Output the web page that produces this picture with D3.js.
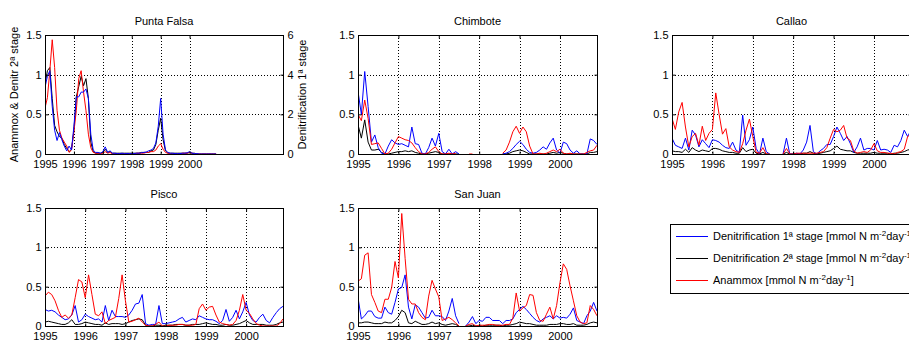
<!DOCTYPE html>
<html><head><meta charset="utf-8">
<script src="https://cdn.jsdelivr.net/npm/d3@7"></script>
<style>
html,body{margin:0;padding:0;background:#fff;overflow:hidden}
svg{display:block;font-family:"Liberation Sans",Arial,Helvetica,sans-serif}
</style></head><body>
<svg id="chart" width="909" height="340"></svg>
<script>
// Monthly series, January 1995 to December 2000 (72 months)
const startYear = 1995;
const yearTicks = [1995, 1996, 1997, 1998, 1999, 2000];
const leftTicks = [0, 0.5, 1, 1.5];
const rightTicks = [0, 2, 4, 6];
const stations = ["Punta Falsa", "Chimbote", "Callao", "Pisco", "San Juan"];
const seriesNames = [
  "Denitrification 1ª stage",
  "Denitrification 2ª stage",
  "Anammox"
];

// Punta Falsa: denitrification 1st stage is read on the right axis (0-6)
const puntaFalsaDenit1 = [3.36,3.92,4.2,2.4,1.2,0.68,1.08,0.72,0.4,0.16,0.4,0.2,
  1.4,2.88,2.88,3.12,3.12,3.28,2.8,1.0,0.2,0.08,0.08,0.04,
  0.12,0.36,0.08,0.16,0.04,0.04,0.02,0.02,0.04,0.02,0.02,0.02,
  0.02,0.02,0.04,0.04,0.06,0.08,0.1,0.16,0.2,0.28,0.56,1.4,
  2.8,1.0,0.2,0.08,0.04,0.04,0.02,0.02,0.02,0.04,0.04,0.06,
  0.12,0.04,0.02,0.02,0.0,0.0,0.0,0.0,0.0,0.0,0.0,0.0];
const puntaFalsaDenit2 = [0.88,1.05,1.09,0.7,0.36,0.28,0.22,0.2,0.12,0.07,0.03,0.06,
  0.3,0.72,0.85,0.98,0.86,0.95,0.7,0.15,0.03,0.01,0.01,0.01,
  0.02,0.06,0.02,0.03,0.01,0.01,0.01,0.01,0.01,0.01,0.01,0.01,
  0.01,0.01,0.01,0.01,0.02,0.02,0.02,0.02,0.04,0.05,0.12,0.3,
  0.45,0.18,0.04,0.01,0.01,0.01,0.01,0.01,0.01,0.01,0.01,0.01,
  0.02,0.01,0.01,0.0,0.0,0.0,0.0,0.0,0.0,0.0,0.0,0.0];
const puntaFalsaAnammox = [0.58,0.71,1.05,1.44,1.09,0.55,0.3,0.2,0.15,0.1,0.02,0.05,
  0.28,0.55,0.95,1.05,0.78,0.55,0.25,0.08,0.02,0.01,0.01,0.0,
  0.01,0.03,0.01,0.02,0.0,0.0,0.0,0.0,0.0,0.0,0.0,0.0,
  0.0,0.0,0.01,0.01,0.01,0.01,0.02,0.02,0.03,0.03,0.05,0.1,
  0.13,0.06,0.02,0.01,0.0,0.0,0.0,0.0,0.0,0.01,0.01,0.01,
  0.02,0.01,0.0,0.0,0.0,0.0,0.0,0.0,0.0,0.0,0.0,0.0];

const chimboteDenit1 = [0.79,0.5,1.04,0.6,0.15,0.24,0.08,0.01,0.0,0.1,0.18,0.14,
  0.12,0.13,0.11,0.09,0.34,0.13,0.12,0.01,0.0,0.08,0.2,0.1,
  0.26,0.03,0.0,0.06,0.0,0.03,0.0,null,null,null,null,null,
  null,null,null,null,null,null,null,0.0,0.01,0.03,0.07,0.12,
  0.16,0.12,0.06,0.02,0.01,0.02,0.05,0.09,0.06,0.14,0.2,0.05,
  0.01,0.15,0.13,0.05,0.01,0.04,0.0,0.0,0.0,0.19,0.17,0.12];
const chimboteDenit2 = [0.37,0.2,0.43,0.15,0.05,0.05,0.06,0.02,0.0,0.0,0.01,0.02,
  0.03,0.03,0.04,0.03,0.04,0.02,0.01,0.0,0.0,0.01,0.02,0.03,
  0.02,0.0,0.0,0.0,0.0,0.0,0.0,null,null,null,null,null,
  null,null,null,null,null,null,null,0.0,0.0,0.01,0.03,0.04,
  0.05,0.04,0.02,0.0,0.0,0.0,0.0,0.0,0.0,0.01,0.02,0.01,
  0.02,0.01,0.0,0.0,0.0,0.0,0.0,0.0,0.0,0.02,0.02,0.03];
const chimboteAnammox = [0.5,0.42,0.68,0.45,0.12,0.13,0.14,0.07,0.0,0.01,0.06,0.14,
  0.22,0.2,0.18,0.17,0.14,0.08,0.03,0.0,0.0,0.02,0.06,0.09,
  0.03,0.0,0.0,0.01,0.0,0.01,null,null,null,0.0,0.0,null,
  null,null,null,null,null,null,null,0.01,0.05,0.15,0.28,0.35,
  0.26,0.34,0.28,0.1,0.0,0.0,0.01,0.0,0.01,0.03,0.05,0.03,
  0.06,0.01,0.0,0.01,0.0,0.0,0.0,0.0,0.02,0.04,0.05,0.11];

const callaoDenit1 = [0.2,0.11,0.09,0.07,0.2,0.05,0.3,0.24,0.09,0.18,0.13,0.08,
  0.18,0.17,0.15,0.11,0.08,0.07,0.15,0.05,0.02,0.49,0.11,0.18,
  0.34,0.07,0.0,0.2,0.03,0.0,null,null,null,0.0,0.2,0.0,
  0.0,0.01,0.0,0.05,0.15,0.36,0.03,0.0,0.04,0.07,0.12,0.12,
  0.22,0.34,0.26,0.17,0.22,0.13,0.02,0.09,0.2,0.05,0.07,0.07,
  0.05,0.17,0.05,0.06,0.05,0.02,0.11,0.09,0.17,0.3,0.22,0.3];
const callaoDenit2 = [0.04,0.03,0.03,0.02,0.06,0.02,0.08,0.05,0.03,0.05,0.04,0.03,
  0.07,0.07,0.06,0.04,0.03,0.02,0.02,0.01,0.01,0.08,0.03,0.05,
  0.06,0.01,0.0,0.02,0.0,0.0,null,null,null,0.0,0.02,0.0,
  0.0,0.0,0.0,0.01,0.01,0.03,0.01,0.0,0.01,0.02,0.03,0.04,
  0.07,0.1,0.06,0.05,0.04,0.04,0.02,0.01,0.01,0.01,0.01,0.01,
  0.02,0.01,0.01,0.01,0.01,0.0,0.01,0.01,0.02,0.03,0.05,0.06];
const callaoAnammox = [0.45,0.31,0.53,0.65,0.34,0.09,0.22,0.26,0.11,0.35,0.17,0.26,
  0.31,0.77,0.5,0.25,0.32,0.09,0.05,0.03,0.02,0.13,0.3,0.44,
  0.22,0.02,0.01,0.08,0.0,0.0,null,null,null,0.0,0.07,0.0,
  0.0,0.01,0.01,0.01,0.01,0.01,0.01,0.01,0.02,0.03,0.08,0.2,
  0.31,0.28,0.3,0.36,0.2,0.17,0.04,0.01,0.02,0.03,0.02,0.05,
  0.13,0.04,0.02,0.02,0.01,0.01,0.0,0.02,0.03,0.06,0.22,0.25];

const piscoDenit1 = [0.21,0.19,0.2,0.18,0.14,0.11,0.08,0.09,0.14,0.26,0.05,0.08,
  0.15,0.12,0.1,0.08,0.09,0.05,0.26,0.07,0.2,0.12,0.12,0.12,
  0.11,0.14,0.2,0.28,0.29,0.4,0.03,0.01,0.02,0.02,0.26,0.03,
  0.03,0.04,0.05,0.06,0.09,0.11,0.05,0.07,0.09,0.08,0.13,0.11,
  0.09,0.08,0.08,0.06,0.03,0.07,0.21,0.06,0.11,0.2,0.09,0.18,
  0.3,0.14,0.07,0.05,0.11,0.15,0.07,0.04,0.11,0.17,0.22,0.25];
const piscoDenit2 = [0.05,0.06,0.05,0.04,0.03,0.02,0.02,0.04,0.08,0.02,0.02,0.03,
  0.05,0.04,0.03,0.02,0.02,0.01,0.04,0.02,0.03,0.03,0.03,0.02,
  0.03,0.05,0.07,0.08,0.09,0.08,0.01,0.0,0.0,0.01,0.01,0.0,
  0.01,0.01,0.01,0.02,0.02,0.02,0.01,0.01,0.02,0.02,0.02,0.03,
  0.04,0.03,0.02,0.02,0.01,0.01,0.02,0.01,0.01,0.02,0.03,0.05,
  0.07,0.04,0.02,0.02,0.02,0.02,0.01,0.01,0.01,0.02,0.04,0.05];
const piscoAnammox = [0.38,0.43,0.4,0.32,0.2,0.11,0.14,0.1,0.14,0.36,0.59,0.56,
  0.36,0.65,0.4,0.15,0.13,0.18,0.03,0.07,0.09,0.11,0.35,0.65,
  0.32,0.05,0.06,0.08,0.1,0.05,0.01,0.0,0.0,0.02,0.05,0.0,
  0.0,0.01,0.01,0.01,0.02,0.02,0.01,0.01,0.01,0.02,0.22,0.28,
  0.2,0.24,0.25,0.14,0.05,0.03,0.02,0.01,0.02,0.07,0.2,0.4,
  0.2,0.16,0.09,0.03,0.01,0.0,0.0,0.0,0.0,0.0,0.03,0.09];

const sanJuanDenit1 = [0.36,0.09,0.13,0.19,0.19,0.12,0.1,0.1,0.24,0.17,0.15,0.3,
  0.47,0.49,0.65,0.24,0.09,0.27,0.24,0.17,0.1,0.11,0.2,0.13,
  0.13,0.12,0.07,0.19,0.35,0.13,0.03,null,0.0,0.05,0.12,0.03,
  0.07,0.06,0.11,0.11,0.07,0.07,0.07,0.03,0.07,0.07,0.09,0.17,
  0.21,0.25,0.21,0.16,0.11,0.07,0.05,0.09,0.11,0.13,0.09,0.13,
  0.1,0.11,0.1,0.15,0.23,0.07,0.05,0.03,0.13,0.19,0.3,0.19];
const sanJuanDenit2 = [0.04,0.04,0.05,0.05,0.04,0.03,0.03,0.03,0.05,0.04,0.04,0.07,
  0.12,0.2,0.17,0.04,0.03,0.06,0.04,0.02,0.02,0.03,0.05,0.03,
  0.04,0.02,0.01,0.02,0.03,0.02,0.0,null,0.0,0.0,0.01,0.0,
  0.0,0.0,0.01,0.01,0.01,0.01,0.01,0.0,0.01,0.01,0.02,0.03,
  0.05,0.04,0.03,0.03,0.02,0.01,0.01,0.01,0.01,0.02,0.02,0.02,
  0.03,0.03,0.02,0.02,0.03,0.01,0.01,0.01,0.02,0.04,0.05,0.04];
const sanJuanAnammox = [0.57,0.6,0.9,0.93,0.4,0.3,0.19,0.17,0.34,0.34,0.49,0.82,
  0.61,1.43,0.86,0.34,0.28,0.28,0.17,0.11,0.08,0.38,0.58,0.47,
  0.37,0.07,0.09,0.11,0.08,0.04,0.0,null,0.0,0.02,0.03,0.0,
  0.01,0.01,0.01,0.02,0.02,0.01,0.01,0.01,0.02,0.02,0.1,0.42,
  0.19,0.23,0.26,0.4,0.39,0.17,0.07,0.06,0.15,0.24,0.09,0.26,
  0.55,0.79,0.72,0.51,0.32,0.13,0.05,0.03,0.04,0.26,0.21,0.13];

// ---- layout ----
const svg = d3.select("#chart");
const W = 909, H = 340;
svg.append("rect").attr("width", W).attr("height", H).attr("fill", "#fff");

const colors = { d1: "#0000ff", d2: "#000000", an: "#ff0000" };
const fontSize = 11;

const panels = [
  { name: stations[0], box: { x: 45,  y: 35,  w: 238, h: 119 }, xMax: 2003.23, dual: true,
    d1: puntaFalsaDenit1, d2: puntaFalsaDenit2, an: puntaFalsaAnammox },
  { name: stations[1], box: { x: 358, y: 35,  w: 239, h: 119 }, xMax: 2000.917,
    d1: chimboteDenit1, d2: chimboteDenit2, an: chimboteAnammox },
  { name: stations[2], box: { x: 672, y: 35,  w: 239, h: 119 }, xMax: 2000.917,
    d1: callaoDenit1, d2: callaoDenit2, an: callaoAnammox },
  { name: stations[3], box: { x: 45,  y: 208, w: 238, h: 118 }, xMax: 2000.917,
    d1: piscoDenit1, d2: piscoDenit2, an: piscoAnammox },
  { name: stations[4], box: { x: 358, y: 208, w: 239, h: 118 }, xMax: 2000.917,
    d1: sanJuanDenit1, d2: sanJuanDenit2, an: sanJuanAnammox }
];

const monthTime = i => startYear + i / 12;

panels.forEach(p => {
  const b = p.box;
  const g = svg.append("g");
  const x = d3.scaleLinear().domain([startYear, p.xMax]).range([b.x, b.x + b.w]);
  const y = d3.scaleLinear().domain([0, 1.5]).range([b.y + b.h, b.y]);
  const yR = d3.scaleLinear().domain([0, 6]).range([b.y + b.h, b.y]);

  // dotted grid
  const grid = g.append("g").attr("stroke", "#000").attr("stroke-width", 1)
    .attr("stroke-dasharray", "1,2");
  yearTicks.forEach(t => {
    const px = Math.round(x(t)) + 0.5;
    grid.append("line").attr("x1", px).attr("x2", px)
      .attr("y1", b.y).attr("y2", b.y + b.h);
  });
  leftTicks.forEach(t => {
    const py = Math.round(y(t)) + 0.5;
    grid.append("line").attr("x1", b.x).attr("x2", b.x + b.w)
      .attr("y1", py).attr("y2", py);
  });

  // series
  const lineL = d3.line().defined(d => d.v !== null)
    .x(d => x(d.t)).y(d => y(d.v));
  const lineR = d3.line().defined(d => d.v !== null)
    .x(d => x(d.t)).y(d => yR(d.v));
  const pts = arr => arr.map((v, i) => ({ t: monthTime(i), v }));

  const clipId = "clip" + b.x + "_" + b.y;
  svg.append("clipPath").attr("id", clipId).append("rect")
    .attr("x", b.x).attr("y", b.y - 1).attr("width", b.w).attr("height", b.h + 2);
  const lg = g.append("g").attr("clip-path", `url(#${clipId})`)
    .attr("fill", "none").attr("stroke-width", 1).attr("stroke-linejoin", "round");

  if (p.dual) {
    lg.append("path").attr("d", lineL(pts(p.d2))).attr("stroke", colors.d2);
    lg.append("path").attr("d", lineL(pts(p.an))).attr("stroke", colors.an);
    lg.append("path").attr("d", lineR(pts(p.d1))).attr("stroke", colors.d1);
  } else {
    lg.append("path").attr("d", lineL(pts(p.d2))).attr("stroke", colors.d2);
    lg.append("path").attr("d", lineL(pts(p.d1))).attr("stroke", colors.d1);
    lg.append("path").attr("d", lineL(pts(p.an))).attr("stroke", colors.an);
  }

  // frame
  g.append("rect").attr("x", b.x + 0.5).attr("y", b.y + 0.5)
    .attr("width", b.w).attr("height", b.h)
    .attr("fill", "none").attr("stroke", "#000").attr("stroke-width", 1);

  // axes via d3-axis, ticks pointing inward
  const xAxis = d3.axisBottom(x).tickValues(yearTicks).tickFormat(d3.format("d"))
    .tickSizeInner(-3).tickSizeOuter(0).tickPadding(6);
  const gx = g.append("g").attr("transform", `translate(0,${b.y + b.h + 0.5})`).call(xAxis);
  const xTop = d3.axisTop(x).tickValues(yearTicks).tickFormat("")
    .tickSizeInner(-3).tickSizeOuter(0);
  const gxt = g.append("g").attr("transform", `translate(0,${b.y + 0.5})`).call(xTop);

  const yAxis = d3.axisLeft(y).tickValues(leftTicks).tickFormat(d3.format("~g"))
    .tickSizeInner(-3).tickSizeOuter(0).tickPadding(4);
  const gy = g.append("g").attr("transform", `translate(${b.x + 0.5},0)`).call(yAxis);

  const rAxis = p.dual
    ? d3.axisRight(yR).tickValues(rightTicks).tickFormat(d3.format("d"))
        .tickSizeInner(-3).tickSizeOuter(0).tickPadding(4)
    : d3.axisRight(y).tickValues(leftTicks).tickFormat("")
        .tickSizeInner(-3).tickSizeOuter(0);
  const gr = g.append("g").attr("transform", `translate(${b.x + b.w + 0.5},0)`).call(rAxis);

  [gx, gxt, gy, gr].forEach(ax => {
    ax.select(".domain").remove();
    ax.selectAll("line").attr("stroke", "#000");
    ax.selectAll("text").attr("fill", "#000").attr("font-size", fontSize)
      .attr("font-family", '"Liberation Sans", Arial, Helvetica, sans-serif');
  });

  // title
  g.append("text").attr("x", b.x + b.w / 2).attr("y", b.y - 10)
    .attr("text-anchor", "middle").attr("font-size", fontSize).attr("fill", "#000")
    .text(p.name);

  if (p.dual) {
    g.append("text")
      .attr("transform", `translate(${b.x - 27},${b.y + b.h / 2}) rotate(-90)`)
      .attr("text-anchor", "middle").attr("font-size", fontSize).attr("fill", "#000")
      .text("Anammox & Denitr 2ª stage");
    g.append("text")
      .attr("transform", `translate(${b.x + b.w + 23},${b.y + b.h / 2}) rotate(-90)`)
      .attr("text-anchor", "middle").attr("font-size", fontSize).attr("fill", "#000")
      .text("Denitrification 1ª stage");
  }
});

// ---- legend ----
const legend = svg.append("g");
const lgBox = { x: 670, y: 224, w: 260, h: 69 };
legend.append("rect").attr("x", lgBox.x + 0.5).attr("y", lgBox.y + 0.5)
  .attr("width", lgBox.w).attr("height", lgBox.h)
  .attr("fill", "#fff").attr("stroke", "#000");
const legendColors = [colors.d1, colors.d2, colors.an];
seriesNames.forEach((name, i) => {
  const cy = lgBox.y + 12 + i * 22;
  legend.append("line").attr("x1", lgBox.x + 6).attr("x2", lgBox.x + 38)
    .attr("y1", cy + 0.5).attr("y2", cy + 0.5)
    .attr("stroke", legendColors[i]).attr("stroke-width", 1);
  const t = legend.append("text").attr("x", lgBox.x + 43).attr("y", cy + 4)
    .attr("font-size", fontSize).attr("fill", "#000");
  t.append("tspan").text(name + " [mmol N m");
  t.append("tspan").attr("dy", -4).attr("font-size", 8).text("-2");
  t.append("tspan").attr("dy", 4).text("day");
  t.append("tspan").attr("dy", -4).attr("font-size", 8).text("-1");
  t.append("tspan").attr("dy", 4).text("]");
});
</script>
</body></html>
